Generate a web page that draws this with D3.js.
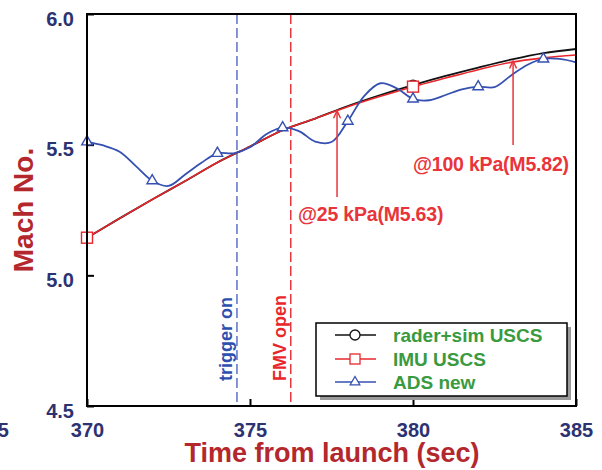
<!DOCTYPE html>
<html>
<head>
<meta charset="utf-8">
<script src="https://cdn.jsdelivr.net/npm/d3@7/dist/d3.min.js"></script>
<style>
  html, body { margin: 0; padding: 0; background: #fff; }
  svg { display: block; font-family: "Liberation Sans", Arial, Helvetica, sans-serif; font-weight: bold; }
</style>
</head>
<body>
<svg id="chart" width="602" height="470"></svg>
<script>
// Time axis (s) and Mach readings of the three sources
const radarTimes = [370, 371, 372, 373, 374, 375, 376, 377, 378, 379, 380, 381, 382, 383, 384, 385];
const radarMach  = [5.144, 5.218, 5.290, 5.360, 5.432, 5.493, 5.555, 5.600, 5.648, 5.690, 5.728, 5.763, 5.795, 5.825, 5.850, 5.866];
const imuTimes   = [370, 371, 372, 373, 374, 375, 376, 377, 378, 379, 380, 381, 382, 383, 384, 385];
const imuMach    = [5.144, 5.218, 5.290, 5.360, 5.432, 5.493, 5.555, 5.600, 5.645, 5.685, 5.722, 5.755, 5.787, 5.815, 5.832, 5.843];
const adsTimes   = [370, 370.5, 371, 371.5, 372, 372.5, 373, 373.5, 374, 374.5, 375, 375.5, 376, 376.5, 377, 377.5,
                    378, 378.5, 379, 379.5, 380, 380.5, 381, 381.5, 382, 382.5, 383, 383.5, 384, 384.5, 385];
const adsMach    = [5.511, 5.497, 5.473, 5.418, 5.362, 5.342, 5.385, 5.430, 5.467, 5.467, 5.490, 5.540, 5.565, 5.552, 5.512, 5.510,
                    5.590, 5.686, 5.735, 5.716, 5.675, 5.670, 5.690, 5.712, 5.722, 5.720, 5.764, 5.805, 5.828, 5.828, 5.815];
// Marker positions
const radarMarkTimes = [370, 380];
const imuMarkTimes   = [370, 380];
const adsMarkTimes   = [370, 372, 374, 376, 378, 380, 382, 384];

// Events and annotations
const eventTimes  = [374.6, 376.25];
const eventLabels = ["trigger on", "FMV open"];
const noteTimes   = [377.67, 383.07];
const noteMach    = [5.63, 5.82];
const noteLabels  = ["@25 kPa(M5.63)", "@100 kPa(M5.82)"];

// Axis ticks
const xTicks = [370, 375, 380, 385];
const yTicks = [4.5, 5.0, 5.5, 6.0];
const seriesNames = ["rader+sim USCS", "IMU USCS", "ADS new"];

const svg = d3.select("#chart");
const plotL = 87, plotR = 576, plotT = 14, plotB = 406;

const x = d3.scaleLinear().domain([370, 385]).range([plotL, plotR]);
const y = d3.scaleLinear().domain([4.5, 6.0]).range([plotB, plotT]);

const navy = "#2c3272", titleRed = "#b3272d", noteRed = "#e8343a";
const cBlack = "#111", cRed = "#e8272d", cBlue = "#3550b0", green = "#3a9a40";

// Axes with inward ticks
const xAxis = svg.append("g").attr("transform", `translate(0,${plotB})`)
  .call(d3.axisBottom(x).tickValues(xTicks).tickSize(-7).tickPadding(17).tickFormat(d3.format("d")));
const yAxis = svg.append("g").attr("transform", `translate(${plotL},0)`)
  .call(d3.axisLeft(y).tickValues(yTicks).tickSize(-7).tickPadding(13).tickFormat(d3.format(".1f")));
[xAxis, yAxis].forEach(g => {
  g.select(".domain").remove();
  g.selectAll(".tick line").attr("stroke", "#000").attr("stroke-width", 2);
  g.selectAll(".tick text").attr("fill", navy).attr("font-size", 20).attr("font-weight", "bold")
    .attr("font-family", "Liberation Sans, Arial, sans-serif");
});
yAxis.selectAll(".tick text").attr("dy", "0.56em");

// Partly visible tick label at the left edge
svg.append("text").attr("x", 9).attr("y", 437).attr("text-anchor", "end")
  .attr("fill", navy).attr("font-size", 20).text("365");

// Event lines
const eventColors = ["#5d70c8", "#e8383d"];
const eventTextColors = ["#2e4fae", "#e8272d"];
eventTimes.forEach((t, i) => {
  svg.append("line").attr("x1", x(t)).attr("x2", x(t)).attr("y1", plotT).attr("y2", plotB)
    .attr("stroke", eventColors[i]).attr("stroke-width", 1.5).attr("stroke-dasharray", "10,4");
  const bx = x(t) - 4.5;
  svg.append("text").attr("transform", `translate(${bx},381) rotate(-90)`)
    .attr("fill", eventTextColors[i]).attr("font-size", 18).text(eventLabels[i]);
});

// Series lines
const line = d3.line().x(d => x(d[0])).y(d => y(d[1]));
const radarPts = radarTimes.map((t, i) => [t, radarMach[i]]);
const imuPts   = imuTimes.map((t, i) => [t, imuMach[i]]);
const adsPts   = adsTimes.map((t, i) => [t, adsMach[i]]);

svg.append("path").attr("d", line.curve(d3.curveMonotoneX)(radarPts))
  .attr("fill", "none").attr("stroke", cBlack).attr("stroke-width", 1.8);
svg.append("path").attr("d", line.curve(d3.curveMonotoneX)(imuPts))
  .attr("fill", "none").attr("stroke", cRed).attr("stroke-width", 1.6);
svg.append("path").attr("d", line.curve(d3.curveCatmullRom)(adsPts))
  .attr("fill", "none").attr("stroke", cBlue).attr("stroke-width", 1.8);

// Markers
const lookup = (times, vals, t) => vals[times.indexOf(t)];
const tri = d3.symbol().type(d3.symbolTriangle).size(48);
radarMarkTimes.forEach(t => {
  svg.append("circle").attr("cx", x(t)).attr("cy", y(lookup(radarTimes, radarMach, t))).attr("r", 5)
    .attr("fill", "#fff").attr("stroke", cBlack).attr("stroke-width", 1.3);
});
imuMarkTimes.forEach(t => {
  svg.append("rect").attr("x", x(t) - 5.5).attr("y", y(lookup(imuTimes, imuMach, t)) - 5.5)
    .attr("width", 11).attr("height", 11)
    .attr("fill", "#fff").attr("stroke", cRed).attr("stroke-width", 1.4);
});
adsMarkTimes.forEach(t => {
  svg.append("path").attr("d", tri).attr("transform", `translate(${x(t)},${y(lookup(adsTimes, adsMach, t))})`)
    .attr("fill", "#fff").attr("stroke", cBlue).attr("stroke-width", 1.4);
});

// Annotation arrows
const arrowBottoms = [197, 145];
const labelBaselines = [221, 171];
const labelLefts = [298, 413];
noteTimes.forEach((t, i) => {
  const ax = x(t), tip = y(noteMach[i]);
  svg.append("line").attr("x1", ax).attr("x2", ax).attr("y1", arrowBottoms[i]).attr("y2", tip)
    .attr("stroke", noteRed).attr("stroke-width", 1.5);
  svg.append("path").attr("d", `M${ax - 3.5},${tip + 7.5}L${ax},${tip}L${ax + 3.5},${tip + 7.5}`)
    .attr("fill", "none").attr("stroke", noteRed).attr("stroke-width", 1.5);
  svg.append("text").attr("x", labelLefts[i]).attr("y", labelBaselines[i])
    .attr("fill", noteRed).attr("font-size", 19.5).attr("letter-spacing", "-0.2").text(noteLabels[i]);
});

// Plot frame
svg.append("rect").attr("x", plotL).attr("y", plotT).attr("width", plotR - plotL).attr("height", plotB - plotT)
  .attr("fill", "none").attr("stroke", "#000").attr("stroke-width", 2);

// Legend
const lg = svg.append("g");
lg.append("rect").attr("x", 320).attr("y", 327).attr("width", 251).attr("height", 73).attr("fill", "#9a9a9a");
lg.append("rect").attr("x", 316).attr("y", 323).attr("width", 251).attr("height", 73)
  .attr("fill", "#fff").attr("stroke", "#000").attr("stroke-width", 1.5);
const rowY = [335, 359, 382];
const rowColors = [cBlack, cRed, cBlue];
seriesNames.forEach((name, i) => {
  lg.append("line").attr("x1", 335).attr("x2", 376).attr("y1", rowY[i]).attr("y2", rowY[i])
    .attr("stroke", rowColors[i]).attr("stroke-width", 1.4);
  if (i === 0) lg.append("circle").attr("cx", 355).attr("cy", rowY[i]).attr("r", 5)
    .attr("fill", "#fff").attr("stroke", cBlack).attr("stroke-width", 1.3);
  if (i === 1) lg.append("rect").attr("x", 350).attr("y", rowY[i] - 5).attr("width", 10).attr("height", 10)
    .attr("fill", "#fff").attr("stroke", cRed).attr("stroke-width", 1.3);
  if (i === 2) lg.append("path").attr("d", d3.symbol().type(d3.symbolTriangle).size(40))
    .attr("transform", `translate(355,${rowY[i]})`)
    .attr("fill", "#fff").attr("stroke", cBlue).attr("stroke-width", 1.3);
  lg.append("text").attr("x", 393).attr("y", rowY[i] + 7).attr("fill", green).attr("font-size", 19).text(name);
});

// Axis titles
svg.append("text").attr("x", 332).attr("y", 462).attr("text-anchor", "middle")
  .attr("fill", titleRed).attr("font-size", 27).text("Time from launch (sec)");
svg.append("text").attr("transform", "translate(33,210) rotate(-90)").attr("text-anchor", "middle")
  .attr("fill", titleRed).attr("font-size", 28).text("Mach No.");
</script>
</body>
</html>
